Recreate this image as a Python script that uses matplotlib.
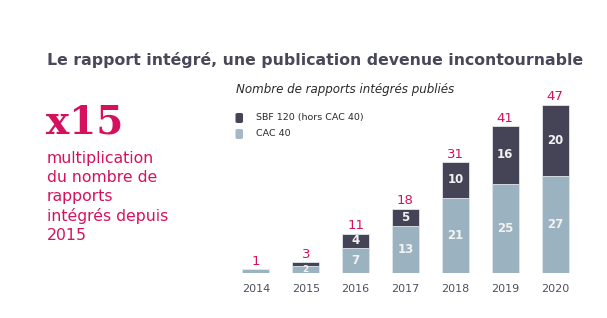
import matplotlib
matplotlib.use("Agg")
import matplotlib.pyplot as plt
from matplotlib.patches import FancyBboxPatch

years = ["2014", "2015", "2016", "2017", "2018", "2019", "2020"]
cac40 = [1, 2, 7, 13, 21, 25, 27]
sbf120 = [0, 1, 4, 5, 10, 16, 20]
totals = [1, 3, 11, 18, 31, 41, 47]
cac_labels = ["", "2", "7", "13", "21", "25", "27"]
sbf_labels = ["", "", "4", "5", "10", "16", "20"]

DARK = "#454457"
LIGHT = "#9bb3c0"
MAGENTA = "#d5115f"
TEXT = "#48485a"

W, H = 607, 318
fig = plt.figure(figsize=(W / 100, H / 100), dpi=100)
fig.patch.set_facecolor("white")

def fx(px):
    return px / W

def fy(py):
    return 1 - py / H

# Axes
ax_left, ax_right, ax_top, ax_bottom = 230, 580, 80, 273
ax = fig.add_axes([fx(ax_left), fy(ax_bottom), (ax_right - ax_left) / W, (ax_bottom - ax_top) / H])
ppu = 3.58
ax.set_xlim(-0.52, 6.5)
ax.set_ylim(0, (ax_bottom - ax_top) / ppu)
ax.axis("off")

x = list(range(len(years)))
bw = 0.54
ax.bar(x, cac40, width=bw, color=LIGHT, edgecolor="#dfe6ea", linewidth=0.6)
ax.bar(x, sbf120, width=bw, bottom=cac40, color=DARK, edgecolor="#dfe6ea", linewidth=0.6)

for i in x:
    if cac_labels[i]:
        fs = 6.5 if cac40[i] < 3 else 8.5
        ax.text(i, cac40[i] / 2, cac_labels[i], ha="center", va="center",
                color="#f2f2f2", fontsize=fs, fontweight="bold")
    if sbf_labels[i]:
        ax.text(i, cac40[i] + sbf120[i] / 2, sbf_labels[i], ha="center", va="center",
                color="#f2f2f2", fontsize=8.5, fontweight="bold")
    ax.text(i, totals[i] + 0.4, str(totals[i]), ha="center", va="bottom",
            color=MAGENTA, fontsize=9.5)
    ax.text(i, -4.5, years[i], ha="center", va="center", color="#4f4f5f", fontsize=8)

# Title
fig.text(fx(47), fy(60), "Le rapport intégré, une publication devenue incontournable",
         ha="left", va="center", fontsize=11.35, fontweight="bold", color=TEXT)

# Big x15
fig.text(fx(46), fy(133), "x15", ha="left", va="baseline", fontsize=28,
         family="DejaVu Serif", fontweight="bold", color=MAGENTA)

lines = ["multiplication", "du nombre de", "rapports", "intégrés depuis", "2015"]
for k, s in enumerate(lines):
    fig.text(fx(47), fy(158 + k * 19.5), s, ha="left", va="center", fontsize=11.3,
             color=MAGENTA)

# Subtitle
fig.text(fx(236), fy(90), "Nombre de rapports intégrés publiés", ha="left", va="center",
         fontsize=8.6, style="italic", color="#2a2a2a")

# Legend
for yy, col, lab in [(118, DARK, "SBF 120 (hors CAC 40)"), (134, "#a3b9c5", "CAC 40")]:
    fig.patches.append(FancyBboxPatch((fx(235.5), fy(yy + 5)), 7.5 / W, 10 / H,
                                      boxstyle="round,pad=0,rounding_size=0.004",
                                      transform=fig.transFigure, facecolor=col,
                                      edgecolor="none"))
    fig.text(fx(256), fy(yy), lab, ha="left", va="center", fontsize=6.8, color="#2a2a2a")

fig.savefig("out.png", dpi=100, facecolor="white")
